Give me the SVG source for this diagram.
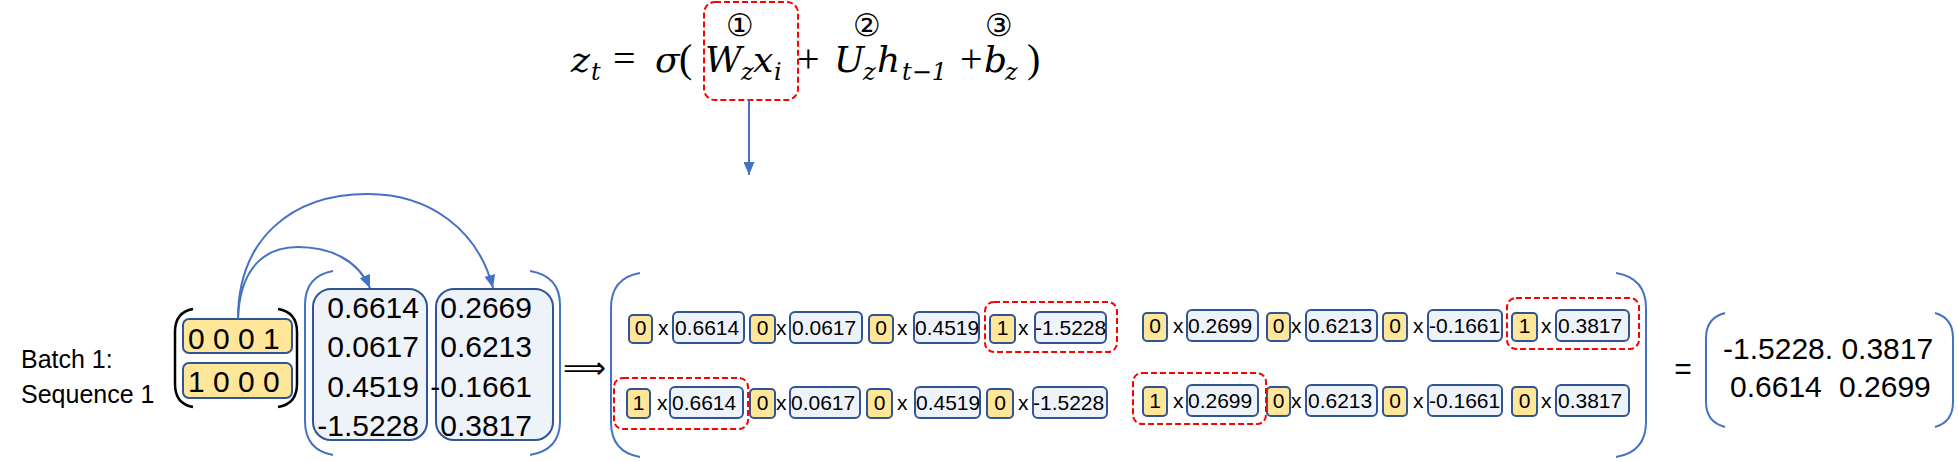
<svg xmlns="http://www.w3.org/2000/svg" width="1958" height="462" viewBox="0 0 1958 462">
<style>
.math{font-family:"DejaVu Serif","Liberation Serif",serif;font-style:italic;font-size:36px;fill:#000}
.sub{font-size:24px}
.up{font-family:"Liberation Serif",serif;font-style:normal;font-size:40px}
.circ{font-family:"DejaVu Sans","Noto Sans CJK JP",sans-serif;font-size:31px;fill:#000;text-anchor:middle}
.lbl{font-family:"Liberation Sans",Arial,sans-serif;font-size:25px;fill:#000}
.big{font-family:"Liberation Sans",Arial,sans-serif;font-size:30px;fill:#000}
.colnum{font-family:"Liberation Sans",Arial,sans-serif;font-size:30px;fill:#000;text-anchor:end}
.sm{font-family:"Liberation Sans",Arial,sans-serif;font-size:21px;fill:#000}
.smc{font-family:"Liberation Sans",Arial,sans-serif;font-size:21px;fill:#000;text-anchor:middle}
.y{fill:#FFE699;stroke:#2F5597;stroke-width:2}
.b{fill:#EEF3FA;stroke:#2F5597;stroke-width:2}
.red{fill:none;stroke:#FF0000;stroke-width:2;stroke-dasharray:6 3}
.br{fill:none;stroke:#4472C4;stroke-width:2}
.bk{fill:none;stroke:#000;stroke-width:2.5}
.conn{fill:none;stroke:#4472C4;stroke-width:2}
</style>
<defs>
<marker id="ah" markerWidth="13" markerHeight="11" refX="13" refY="5.5" orient="auto" markerUnits="userSpaceOnUse" viewBox="0 0 13 11">
<path d="M0,0 L13,5.5 L0,11 z" fill="#4472C4"/>
</marker>
</defs>

<g id="formula">
<text class="math" y="72"><tspan x="571">z</tspan><tspan class="sub" x="591" y="80">t</tspan><tspan class="up" x="613" y="72">=</tspan><tspan x="655" y="72">σ</tspan><tspan class="up" x="679" y="72">(</tspan><tspan x="705" y="72">W</tspan><tspan class="sub" x="741" y="80">z</tspan><tspan x="753" y="72">x</tspan><tspan class="sub" x="774" y="80">i</tspan><tspan class="up" x="797" y="72">+</tspan><tspan x="834" y="72">U</tspan><tspan class="sub" x="863" y="80">z</tspan><tspan x="877" y="72">h</tspan><tspan class="sub" x="902" y="80">t−1</tspan><tspan class="up" x="960" y="72">+</tspan><tspan x="984" y="72">b</tspan><tspan class="sub" x="1005" y="80">z</tspan><tspan class="up" x="1027" y="72">)</tspan></text>
<text class="circ" x="740" y="36">①</text>
<text class="circ" x="867" y="36">②</text>
<text class="circ" x="999" y="36">③</text>
<rect class="red" x="704" y="2" width="94" height="98" rx="11"/>
</g>

<g id="batch-label">
<text class="lbl" x="21" y="368">Batch 1:</text>
<text class="lbl" x="21" y="403">Sequence 1</text>
</g>

<g id="input-matrix">
<path class="bk" d="M193,309 Q175,312 175,332 L175,384 Q175,404 193,407"/>
<path class="bk" d="M278,309 Q297,312 297,332 L297,384 Q297,404 278,407"/>
<rect class="y" x="183" y="319" width="109" height="34" rx="6"/>
<text class="big" x="188" y="349">0 0 0 1</text>
<rect class="y" x="183" y="363" width="109" height="35" rx="6"/>
<text class="big" x="188" y="392">1 0 0 0</text>
</g>

<g id="weight-matrix">
<path class="br" d="M333,271 Q305,276 305,305 L305,421 Q305,450 333,455"/>
<path class="br" d="M530,271 Q560,276 560,305 L560,421 Q560,450 530,455"/>
<rect class="b" x="313" y="289" width="114" height="151" rx="18"/>
<rect class="b" x="436" y="289" width="117" height="151" rx="18"/>
<text class="colnum" x="419" y="318">0.6614</text>
<text class="colnum" x="419" y="357">0.0617</text>
<text class="colnum" x="419" y="397">0.4519</text>
<text class="colnum" x="419" y="436">-1.5228</text>
<text class="colnum" x="532" y="318">0.2669</text>
<text class="colnum" x="532" y="357">0.6213</text>
<text class="colnum" x="532" y="397">-0.1661</text>
<text class="colnum" x="532" y="436">0.3817</text>
</g>

<g id="implies">
<text class="big" x="584" y="378" text-anchor="middle" font-family="DejaVu Sans, sans-serif">⟹</text>
</g>

<g id="product-matrix">
<path class="br" d="M640,273 Q611,278 611,308 L611,422 Q611,452 640,457"/>
<path class="br" d="M1616,273 Q1646,278 1646,308 L1646,422 Q1646,452 1616,457"/>

<rect class="y" x="629" y="315" width="23" height="28" rx="4"/><text class="smc" x="640.5" y="335">0</text>
<text class="sm" x="658" y="335">x</text>
<rect class="b" x="673" y="312" width="71" height="31" rx="5"/><text class="sm" x="675" y="335">0.6614</text>
<rect class="y" x="750" y="315" width="25" height="28" rx="4"/><text class="smc" x="762.5" y="335">0</text>
<text class="sm" x="776" y="335">x</text>
<rect class="b" x="790" y="312" width="72" height="31" rx="5"/><text class="sm" x="792" y="335">0.0617</text>
<rect class="y" x="869" y="315" width="24" height="28" rx="4"/><text class="smc" x="881" y="335">0</text>
<text class="sm" x="897" y="335">x</text>
<rect class="b" x="914" y="312" width="65" height="31" rx="5"/><text class="sm" x="915" y="335">0.4519</text>
<rect class="y" x="990" y="315" width="25" height="28" rx="4"/><text class="smc" x="1002.5" y="335">1</text>
<text class="sm" x="1018" y="335">x</text>
<rect class="b" x="1035" y="312" width="71" height="31" rx="5"/><text class="sm" x="1035" y="335">-1.5228</text>

<rect class="y" x="627" y="389" width="23" height="29" rx="4"/><text class="smc" x="638.5" y="410">1</text>
<text class="sm" x="657" y="410">x</text>
<rect class="b" x="670" y="387" width="73" height="31" rx="5"/><text class="sm" x="672" y="410">0.6614</text>
<rect class="y" x="750" y="389" width="25" height="29" rx="4"/><text class="smc" x="762.5" y="410">0</text>
<text class="sm" x="776" y="410">x</text>
<rect class="b" x="790" y="387" width="70" height="31" rx="5"/><text class="sm" x="791" y="410">0.0617</text>
<rect class="y" x="867" y="389" width="25" height="29" rx="4"/><text class="smc" x="879.5" y="410">0</text>
<text class="sm" x="897" y="410">x</text>
<rect class="b" x="915" y="387" width="65" height="31" rx="5"/><text class="sm" x="916" y="410">0.4519</text>
<rect class="y" x="987" y="389" width="26" height="29" rx="4"/><text class="smc" x="1000" y="410">0</text>
<text class="sm" x="1018" y="410">x</text>
<rect class="b" x="1033" y="387" width="74" height="31" rx="5"/><text class="sm" x="1033" y="410">-1.5228</text>

<rect class="y" x="1143" y="313" width="24" height="28" rx="4"/><text class="smc" x="1155" y="333">0</text>
<text class="sm" x="1173" y="333">x</text>
<rect class="b" x="1187" y="310" width="71" height="31" rx="5"/><text class="sm" x="1188" y="333">0.2699</text>
<rect class="y" x="1267" y="313" width="23" height="28" rx="4"/><text class="smc" x="1278.5" y="333">0</text>
<text class="sm" x="1291" y="333">x</text>
<rect class="b" x="1306" y="310" width="71" height="31" rx="5"/><text class="sm" x="1308" y="333">0.6213</text>
<rect class="y" x="1383" y="313" width="24" height="28" rx="4"/><text class="smc" x="1395" y="333">0</text>
<text class="sm" x="1413" y="333">x</text>
<rect class="b" x="1428" y="310" width="74" height="31" rx="5"/><text class="sm" x="1429" y="333">-0.1661</text>
<rect class="y" x="1512" y="313" width="25" height="28" rx="4"/><text class="smc" x="1524.5" y="333">1</text>
<text class="sm" x="1541" y="333">x</text>
<rect class="b" x="1556" y="310" width="73" height="31" rx="5"/><text class="sm" x="1558" y="333">0.3817</text>

<rect class="y" x="1143" y="387" width="24" height="29" rx="4"/><text class="smc" x="1155" y="408">1</text>
<text class="sm" x="1173" y="408">x</text>
<rect class="b" x="1187" y="385" width="71" height="31" rx="5"/><text class="sm" x="1188" y="408">0.2699</text>
<rect class="y" x="1267" y="387" width="23" height="29" rx="4"/><text class="smc" x="1278.5" y="408">0</text>
<text class="sm" x="1291" y="408">x</text>
<rect class="b" x="1306" y="385" width="71" height="31" rx="5"/><text class="sm" x="1308" y="408">0.6213</text>
<rect class="y" x="1383" y="387" width="24" height="29" rx="4"/><text class="smc" x="1395" y="408">0</text>
<text class="sm" x="1413" y="408">x</text>
<rect class="b" x="1428" y="385" width="74" height="31" rx="5"/><text class="sm" x="1429" y="408">-0.1661</text>
<rect class="y" x="1512" y="387" width="25" height="29" rx="4"/><text class="smc" x="1524.5" y="408">0</text>
<text class="sm" x="1541" y="408">x</text>
<rect class="b" x="1556" y="385" width="73" height="31" rx="5"/><text class="sm" x="1558" y="408">0.3817</text>

<rect class="red" x="985" y="302" width="132" height="50" rx="9"/>
<rect class="red" x="614" y="378" width="134" height="51" rx="9"/>
<rect class="red" x="1507" y="298" width="132" height="51" rx="9"/>
<rect class="red" x="1133" y="373" width="133" height="51" rx="9"/>
</g>

<g id="equals">
<text class="big" x="1683" y="379" text-anchor="middle" font-size="36">=</text>
</g>

<g id="result-matrix">
<path class="br" d="M1725,313 Q1706,318 1706,338 L1706,402 Q1706,422 1725,427"/>
<path class="br" d="M1935,313 Q1953,318 1953,338 L1953,402 Q1953,422 1935,427"/>
<text class="big" x="1723" y="359">-1.5228. 0.3817</text>
<text class="big" x="1730" y="397">0.6614</text>
<text class="big" x="1839" y="397">0.2699</text>
</g>

<g id="connectors">
<path class="conn" d="M749,100 L749,175" marker-end="url(#ah)"/>
<path class="conn" d="M238,319 C238,240 290,194 368,194 C430,194 478,230 493,288" marker-end="url(#ah)"/>
<path class="conn" d="M238,319 C240,262 270,247 298,247 C330,247 358,260 370,288" marker-end="url(#ah)"/>
</g>
</svg>
